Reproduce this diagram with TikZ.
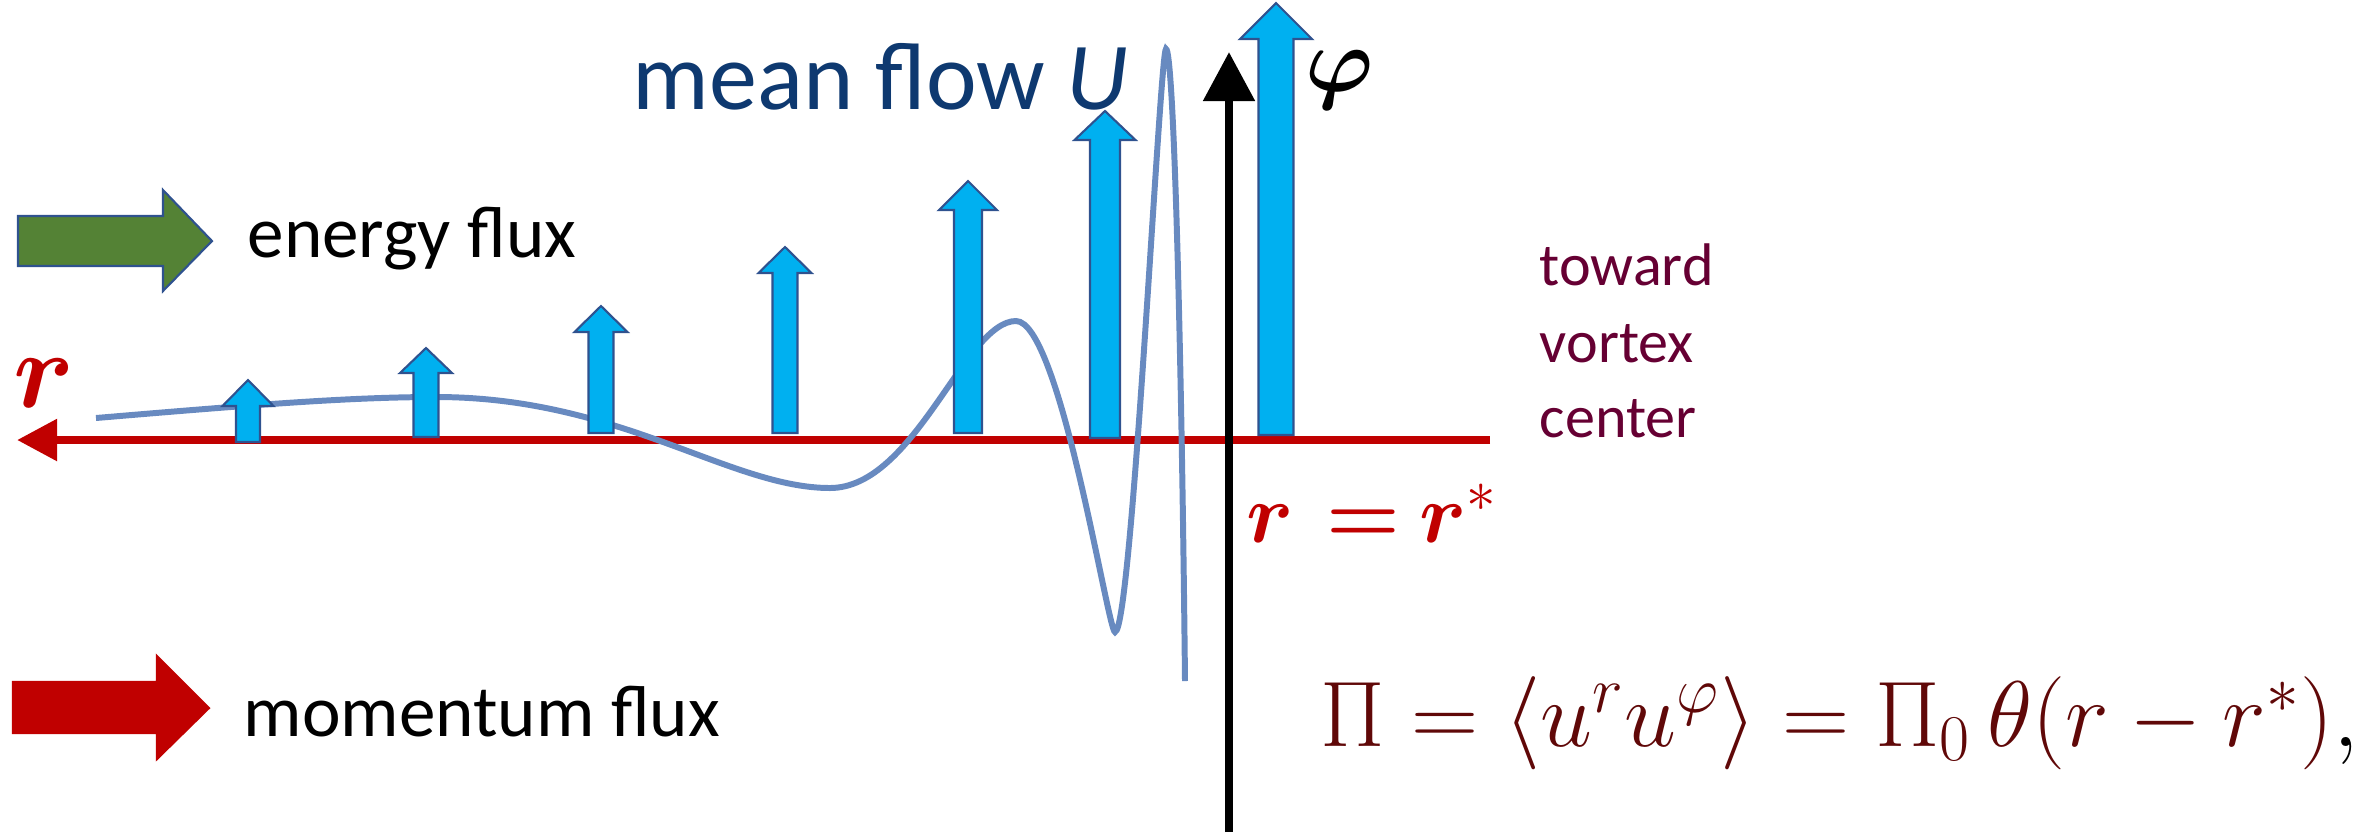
\RequirePackage{fix-cm}
\documentclass[tikz,border=0pt]{standalone}
\usepackage{amsmath}
\usepackage[no-math]{fontspec}
\setmainfont{Carlito}
\definecolor{flowcyan}{RGB}{0,176,240}
\definecolor{flowedge}{RGB}{47,82,143}
\definecolor{axisred}{RGB}{192,0,0}
\definecolor{energygreen}{RGB}{84,130,53}
\definecolor{wavegray}{RGB}{104,138,192}
\definecolor{meanblue}{RGB}{14,57,112}
\definecolor{vortexmaroon}{RGB}{102,0,51}
\definecolor{fluxmaroon}{RGB}{96,8,8}
\usetikzlibrary{arrows.meta,positioning}

\begin{document}
\begin{tikzpicture}[
  x=0.01cm,y=-0.01cm,
  txt/.style={inner sep=0pt,anchor=base west},
  flowarrow/.style={draw=flowedge,line width=0.6pt,fill=flowcyan},
  bigarrow/.style={line width=0.6pt,line join=miter},
  wave/.style={wavegray,line width=1.7pt},
  axisline/.style={line width=2.4pt}
]
  \useasboundingbox (0,0) rectangle (2369,832);
  % radial axis, pointing outward
  \coordinate (raxisend) at (1490,440);
  \coordinate (raxistip) at (17,440);
  \draw[axisline,axisred,-{Triangle[length=0.4cm,width=0.4cm]}] (raxisend) -- (raxistip);
  % azimuthal axis at r = r*
  \coordinate (phibase) at (1229,832);
  \coordinate (phitip) at (1229,52);
  \draw[axisline,black,-{Triangle[length=0.49cm,width=0.5cm]}] (phibase) -- (phitip);
  % wave
  \draw[wave] (96,418) .. controls (250,405) and (350,397) .. (436,397)
    .. controls (620,397) and (730,488) .. (830,488)
    .. controls (915,488) and (965,321) .. (1016,321)
    .. controls (1060,321) and (1108,632) .. (1115,632)
    .. controls (1132,632) and (1160,49) .. (1166,49)
    .. controls (1173,49) and (1181,300) .. (1185,681);
  % mean flow profile
  \foreach \cx/\bot/\tip/\sw/\hw/\hl in {248/442/380/12/25.5/26, 426/437/348/12.5/26/25,
      601/433/306/12.5/26.5/26, 785/433/247/12.5/26.5/26, 968/433/181/14/29/29,
      1105/438/111/15/30.5/29, 1276/435/3/17.5/36/36}
    \draw[flowarrow] (\cx-\sw,\bot) -- (\cx-\sw,\tip+\hl) -- (\cx-\hw,\tip+\hl) -- (\cx,\tip)
      -- (\cx+\hw,\tip+\hl) -- (\cx+\sw,\tip+\hl) -- (\cx+\sw,\bot) -- cycle;
  % legend arrows
  \draw[bigarrow,fill=energygreen,draw=flowedge] (18,216) -- (163,216) -- (163,190) -- (212,241)
    -- (163,291) -- (163,266) -- (18,266) -- cycle;
  \draw[bigarrow,fill=axisred,draw=axisred] (13,682) -- (157,682) -- (157,656) -- (209,708)
    -- (157,759) -- (157,733) -- (13,733) -- cycle;
  % labels
  \node[txt,font=\fontsize{27.3}{32}\selectfont,text=meanblue] (meanflow) at (632,109) {mean flow \textit{U}};
  \node[txt,font=\fontsize{20.8}{25}\selectfont] (energy) at (247,257) {energy flux};
  \node[txt,font=\fontsize{20.8}{25}\selectfont] (momentum) at (243,736) {momentum flux};
  \node[txt,font=\fontsize{17.1}{21}\selectfont,text=vortexmaroon] (towardlbl) at (1539,285) {toward};
  \node[txt,font=\fontsize{17.1}{21}\selectfont,text=vortexmaroon] (vortexlbl) at (1539,362) {vortex};
  \node[txt,font=\fontsize{17.1}{21}\selectfont,text=vortexmaroon] (centerlbl) at (1539,437) {center};
  \node[txt,font=\fontsize{31}{36}\selectfont,text=axisred] (rlabel) at (13,407) {$\boldsymbol{r}$};
  \node[txt,font=\fontsize{24}{28}\selectfont,text=axisred] (rstar) at (1246,542)
    {$\boldsymbol{r}\mskip7mu{\boldsymbol{=}}\mskip4mu\boldsymbol{r}^{*}$};
  \node[txt,font=\fontsize{26}{31}\selectfont] (philabel) at (1305,91) {$\boldsymbol{\varphi}$};
  \node[txt,font=\fontsize{26.5}{30}\selectfont,text=fluxmaroon] (flux) at (1320,746)
    {$\Pi = \langle u^{r}u^{\varphi}\rangle = \Pi_0\,\theta(r-r^{*})\textcolor{black}{,}$};
\end{tikzpicture}
\end{document}
